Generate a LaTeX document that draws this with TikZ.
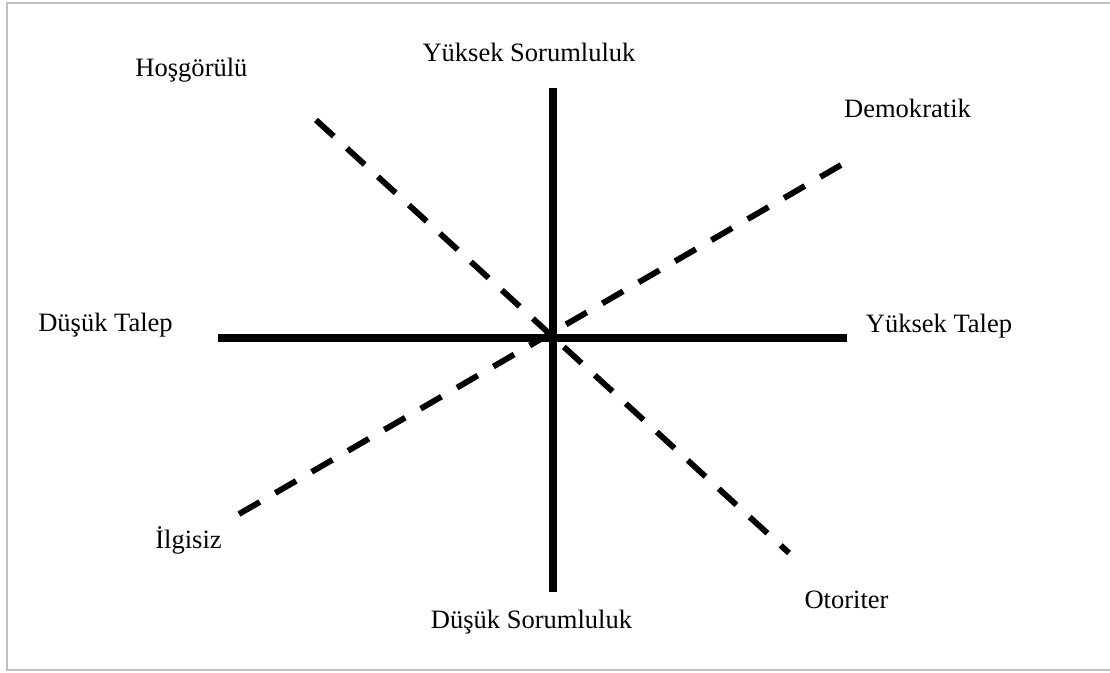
\documentclass[tikz,border=0pt]{standalone}
\usepackage{fontspec}
\setmainfont{Liberation Serif}
\begin{document}
\begin{tikzpicture}[x=0.75pt,y=-0.75pt,
  lbl/.style={font=\fontsize{19.9}{24}\selectfont, inner sep=0pt, anchor=base},
  axis/.style={line width=5.6pt, black},
  diag/.style={line width=4.4pt, black, dash pattern=on 18pt off 13.5pt},
  frame/.style={line width=1.5pt, draw={rgb,255:red,192;green,192;blue,192}}]
\useasboundingbox (0,0) rectangle (1110,672);
\draw[frame] (1112,3) -- (7,3) -- (7,670) -- (1112,670);
% axes
\coordinate (vt) at (553,88);
\coordinate (vb) at (553,592);
\coordinate (hl) at (218,338);
\coordinate (hr) at (847,338);
\coordinate (d1a) at (316,120);
\coordinate (d1b) at (789,553);
\coordinate (d2a) at (239,514);
\coordinate (d2b) at (841,165);
\draw[diag] (d1a) -- (d1b);
\draw[diag] (d2a) -- (d2b);
\draw[axis] (vt) -- (vb);
\draw[axis] (hl) -- (hr);
% labels
\node[lbl] (hos) at (191.5,76) {Hoşgörülü};
\node[lbl] (ys) at (529,61) {Yüksek Sorumluluk};
\node[lbl] (dem) at (907.5,117) {Demokratik};
\node[lbl] (dt) at (105.5,331) {Düşük Talep};
\node[lbl] (yt) at (939,332) {Yüksek Talep};
\node[lbl] (ilg) at (188.5,548) {İlgisiz};
\node[lbl] (oto) at (846.5,608) {Otoriter};
\node[lbl] (ds) at (531.5,628) {Düşük Sorumluluk};
\end{tikzpicture}
\end{document}
